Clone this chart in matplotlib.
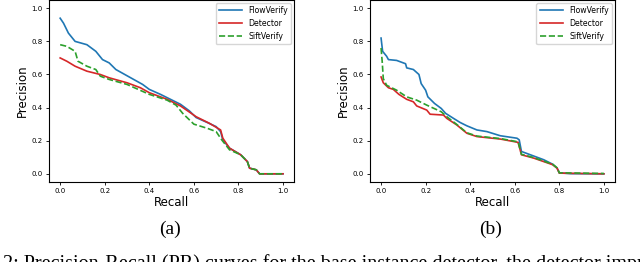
import numpy as np
import matplotlib
matplotlib.use("Agg")
import matplotlib.pyplot as plt

# ---- panel (a) ----
a_flow_r = [0.0, 0.015, 0.037, 0.067, 0.12, 0.16, 0.19, 0.22, 0.25, 0.33, 0.37, 0.40, 0.45, 0.48,
            0.54, 0.58, 0.61, 0.66, 0.70, 0.72, 0.73, 0.76, 0.81, 0.84, 0.85, 0.88, 0.895, 1.0]
a_flow_p = [0.94, 0.91, 0.85, 0.80, 0.78, 0.74, 0.69, 0.67, 0.63, 0.57, 0.54, 0.51, 0.48, 0.46,
            0.42, 0.38, 0.34, 0.31, 0.285, 0.255, 0.205, 0.155, 0.115, 0.074, 0.034, 0.024, 0.0, 0.0]

a_det_r = [0.0, 0.03, 0.067, 0.12, 0.18, 0.22, 0.30, 0.36, 0.40, 0.48, 0.54, 0.61, 0.67, 0.72,
           0.73, 0.76, 0.81, 0.84, 0.85, 0.88, 0.895, 1.0]
a_det_p = [0.70, 0.68, 0.65, 0.62, 0.60, 0.58, 0.55, 0.52, 0.49, 0.45, 0.41, 0.345, 0.305, 0.265,
           0.215, 0.155, 0.115, 0.074, 0.034, 0.024, 0.0, 0.0]

a_sift_r = [0.0, 0.03, 0.067, 0.08, 0.12, 0.16, 0.18, 0.22, 0.30, 0.40, 0.48, 0.52, 0.55, 0.60,
            0.66, 0.70, 0.725, 0.76, 0.81, 0.84, 0.85, 0.88, 0.895, 1.0]
a_sift_p = [0.78, 0.77, 0.74, 0.68, 0.65, 0.63, 0.59, 0.57, 0.54, 0.48, 0.445, 0.415, 0.365, 0.30,
            0.275, 0.255, 0.205, 0.145, 0.115, 0.074, 0.034, 0.024, 0.0, 0.0]

# ---- panel (b) ----
b_flow_r = [0.0, 0.007, 0.025, 0.033, 0.07, 0.11, 0.115, 0.145, 0.17, 0.18, 0.20, 0.21, 0.24, 0.27,
            0.29, 0.325, 0.355, 0.385, 0.43, 0.475, 0.535, 0.61, 0.62, 0.63, 0.67, 0.73, 0.77, 0.79,
            0.80, 0.85, 1.0]
b_flow_p = [0.82, 0.74, 0.71, 0.69, 0.685, 0.665, 0.64, 0.63, 0.60, 0.545, 0.505, 0.465, 0.425, 0.395,
            0.365, 0.335, 0.31, 0.29, 0.265, 0.255, 0.23, 0.215, 0.205, 0.135, 0.115, 0.085, 0.058, 0.034,
            0.006, 0.001, 0.0]

b_det_r = [0.0, 0.01, 0.033, 0.055, 0.08, 0.115, 0.145, 0.16, 0.205, 0.22, 0.28, 0.295, 0.34, 0.385,
           0.43, 0.535, 0.615, 0.63, 0.685, 0.77, 0.79, 0.80, 1.0]
b_det_p = [0.585, 0.55, 0.52, 0.51, 0.48, 0.45, 0.435, 0.41, 0.385, 0.36, 0.355, 0.335, 0.295, 0.245,
           0.225, 0.21, 0.19, 0.115, 0.095, 0.055, 0.034, 0.004, 0.0]

b_sift_r = [0.0, 0.005, 0.01, 0.025, 0.07, 0.115, 0.16, 0.205, 0.27, 0.295, 0.34, 0.385,
            0.43, 0.535, 0.615, 0.63, 0.685, 0.77, 0.79, 0.80, 1.0]
b_sift_p = [0.76, 0.68, 0.575, 0.535, 0.505, 0.465, 0.445, 0.415, 0.375, 0.345, 0.298, 0.248,
            0.228, 0.213, 0.193, 0.118, 0.098, 0.058, 0.036, 0.006, 0.002]

panels = [
    ("(a)", a_flow_r, a_flow_p, a_det_r, a_det_p, a_sift_r, a_sift_p, 0.0766),
    ("(b)", b_flow_r, b_flow_p, b_det_r, b_det_p, b_sift_r, b_sift_p, 0.578),
]

fig = plt.figure(figsize=(6.4, 2.62), dpi=100)

for name, fr, fp, dr, dp, sr, sp, left in panels:
    ax = fig.add_axes([left, 0.305, 0.383, 0.695])
    ax.plot(fr, fp, color='tab:blue', lw=1.2, label='FlowVerify')
    ax.plot(dr, dp, color='tab:red', lw=1.2, label='Detector')
    ax.plot(sr, sp, color='tab:green', lw=1.2, linestyle='--', label='SiftVerify')
    ax.set_xlim(-0.05, 1.05)
    ax.set_ylim(-0.05, 1.05)
    ax.set_xticks([0.0, 0.2, 0.4, 0.6, 0.8, 1.0])
    ax.set_yticks([0.0, 0.2, 0.4, 0.6, 0.8, 1.0])
    ax.tick_params(labelsize=5, length=2.5, width=0.6, pad=2)
    for s in ax.spines.values():
        s.set_linewidth(0.8)
    ax.set_xlabel('Recall', fontsize=8.5, labelpad=1)
    ax.set_ylabel('Precision', fontsize=8.5, labelpad=2)
    ax.legend(loc='upper right', fontsize=5.6, handlelength=3, borderaxespad=0.4)
    fig.text(left + (170 - 49) / 640.0, 1 - 229 / 262.0, name, ha='center', va='center',
             fontsize=14, family='Liberation Serif')

# figure caption line, cut by the bottom edge as in the source page
fig.text(0.004, 1 - 269 / 262.0,
         "2: Precision-Recall (PR) curves for the base instance detector, the detector improved",
         ha='left', va='baseline', fontsize=14.5, family='Liberation Serif')

fig.savefig('out.png', dpi=100)
